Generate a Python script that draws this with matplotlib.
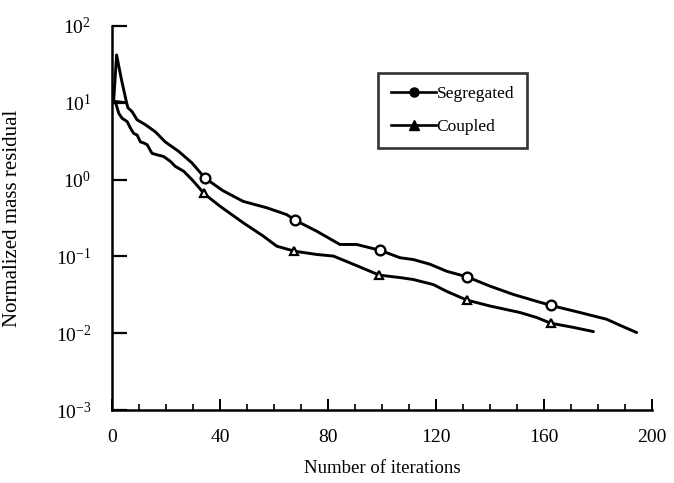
import matplotlib
matplotlib.use("Agg")
import matplotlib.pyplot as plt
from matplotlib.lines import Line2D
from matplotlib.ticker import FixedLocator, MultipleLocator, NullLocator

plt.rcParams["font.family"] = ["Liberation Serif", "DejaVu Serif"]
plt.rcParams["mathtext.fontset"] = "custom"
plt.rcParams["mathtext.rm"] = "Liberation Serif"
plt.rcParams["mathtext.it"] = "Liberation Serif"

# Segregated solver: normalized mass residual vs iteration
seg_iter = [0.6, 1.7, 3.5, 5.4, 5.9, 7.4, 9.3, 12.3, 16.0, 19.7, 24.7, 29.6,
            34.4, 41.0, 48.6, 57.3, 64.7, 67.8, 75.8, 84.4, 90.6, 99.3,
            106.7, 111.6, 117.8, 124.0, 131.6, 140.0, 148.6, 157.3, 162.6,
            173.3, 183.2, 188.1, 194.3]
seg_res = [10.5, 42.0, 20.0, 10.0, 8.6, 7.7, 6.0, 5.2, 4.2, 3.1, 2.33, 1.65,
           1.05, 0.72, 0.52, 0.43, 0.35, 0.296, 0.213, 0.143, 0.143, 0.12,
           0.096, 0.091, 0.079, 0.064, 0.054, 0.041, 0.032, 0.026, 0.023,
           0.0186, 0.0152, 0.0127, 0.0102]
seg_marks = [34.4, 67.8, 99.3, 131.6, 162.6]

# Coupled solver
cpl_iter = [5.4, 1.2, 2.5, 3.7, 5.6, 6.8, 8.0, 9.3, 10.5, 11.7, 13.0, 14.8,
            16.7, 19.1, 21.6, 23.4, 26.6, 29.6, 32.3, 34.0, 40.0, 48.6,
            56.0, 61.0, 67.5, 75.8, 82.0, 89.4, 99.0, 106.7, 111.6, 119.0,
            124.0, 131.4, 140.0, 151.1, 157.3, 162.5, 170.9, 178.3]
cpl_res = [10.0, 10.4, 7.3, 6.3, 5.7, 4.7, 4.0, 3.8, 3.1, 3.0, 2.85, 2.2,
           2.1, 2.0, 1.73, 1.49, 1.28, 1.0, 0.78, 0.66, 0.45, 0.274,
           0.184, 0.136, 0.117, 0.106, 0.101, 0.079, 0.057, 0.053, 0.050,
           0.043, 0.035, 0.027, 0.0226, 0.0186, 0.016, 0.0135, 0.0119, 0.0105]
cpl_marks = [34.0, 67.5, 99.0, 131.4, 162.5]

series_names = ["Segregated", "Coupled"]
x_ticks = [0, 40, 80, 120, 160, 200]
y_ticks = [1e-3, 1e-2, 1e-1, 1e0, 1e1, 1e2]
y_tick_labels = ["$10^{-3}$", "$10^{-2}$", "$10^{-1}$", "$10^{0}$", "$10^{1}$", "$10^{2}$"]

fig = plt.figure(figsize=(6.74, 4.83), dpi=100)
ax = fig.add_axes([0.1662, 0.1511, 0.8012, 0.7951])

lw = 2.1
ax.plot(seg_iter, seg_res, color="black", lw=lw, solid_joinstyle="round",
        solid_capstyle="round")
ax.plot(cpl_iter, cpl_res, color="black", lw=lw, solid_joinstyle="round",
        solid_capstyle="round")

seg_mark_idx = [seg_iter.index(v) for v in seg_marks]
cpl_mark_idx = [cpl_iter.index(v) for v in cpl_marks]
ax.plot([seg_iter[i] for i in seg_mark_idx], [seg_res[i] for i in seg_mark_idx],
        linestyle="none", marker="o", markersize=7, markerfacecolor="white",
        markeredgecolor="black", markeredgewidth=1.7)
ax.plot([cpl_iter[i] for i in cpl_mark_idx], [cpl_res[i] for i in cpl_mark_idx],
        linestyle="none", marker="^", markersize=6, markerfacecolor="white",
        markeredgecolor="black", markeredgewidth=1.6)

ax.set_yscale("log")
ax.set_xlim(0, 200)
ax.set_ylim(1e-3, 1e2)

for side in ("top", "right"):
    ax.spines[side].set_visible(False)
for side in ("left", "bottom"):
    ax.spines[side].set_linewidth(1.8)

ax.xaxis.set_major_locator(FixedLocator(x_ticks))
ax.xaxis.set_minor_locator(MultipleLocator(10))
ax.yaxis.set_major_locator(FixedLocator(y_ticks))
ax.yaxis.set_minor_locator(NullLocator())
ax.set_yticklabels(y_tick_labels)

ax.tick_params(axis="x", which="major", direction="in", length=8, width=1.4,
               labelsize=14, pad=14)
ax.tick_params(axis="x", which="minor", direction="in", length=4, width=1.2)
ax.tick_params(axis="y", which="major", direction="in", length=11, width=1.6,
               labelsize=14, pad=15)

ax.set_xlabel("Number of iterations", fontsize=13.5, labelpad=10)
ax.set_ylabel("Normalized mass residual", fontsize=15, labelpad=24)

handles = [
    Line2D([], [], color="black", lw=1.9, marker="o", markersize=6.5,
           markerfacecolor="black"),
    Line2D([], [], color="black", lw=1.9, marker="^", markersize=6.5,
           markerfacecolor="black"),
]
leg = ax.legend(handles, series_names, loc="upper left",
                bbox_to_anchor=(0.493, 0.878), fontsize=12.5, frameon=True,
                fancybox=False, handlelength=2.6, handletextpad=0.0,
                borderpad=0.75, labelspacing=0.95, borderaxespad=0)
leg.get_frame().set_edgecolor("black")
leg.get_frame().set_linewidth(1.9)

fig.savefig("out.png", dpi=100)
